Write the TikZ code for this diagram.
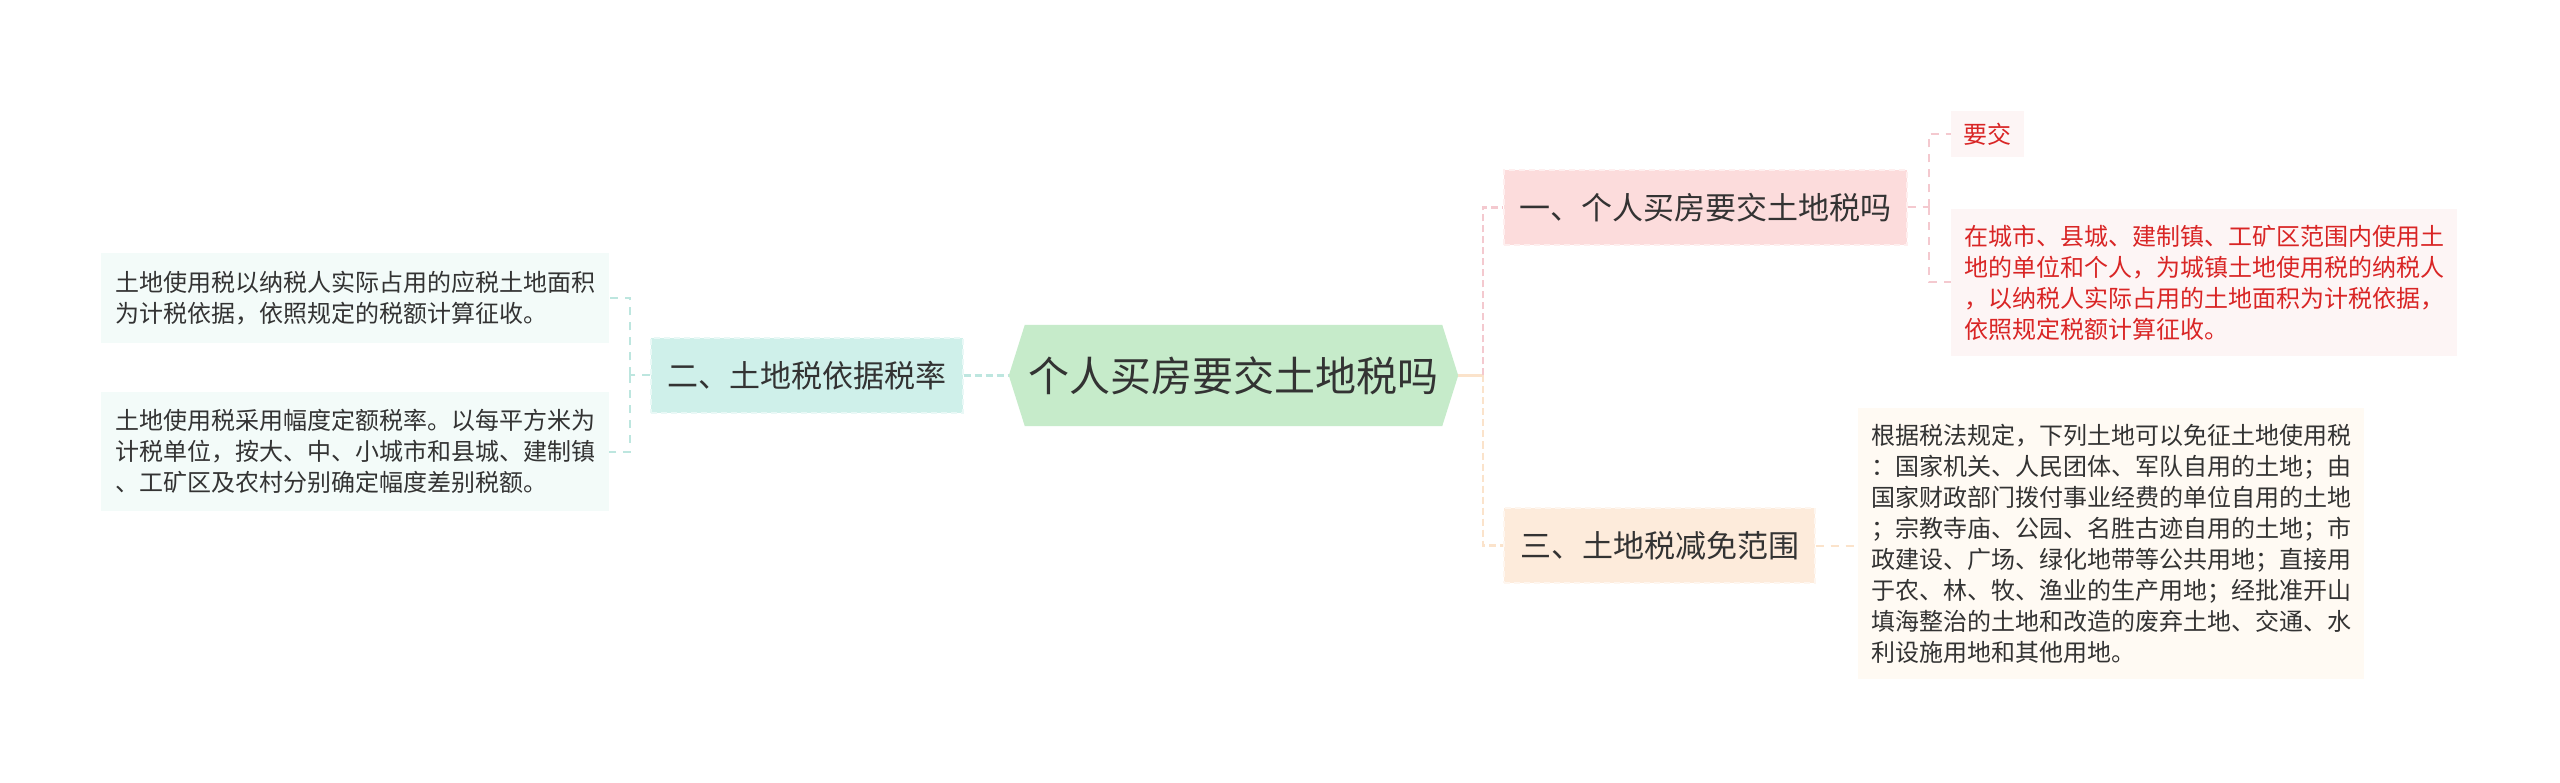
\documentclass[tikz,border=0pt]{standalone}
\usepackage{fontspec}
\newfontfamily\cjk{Noto Sans CJK SC}
\usetikzlibrary{backgrounds}
\definecolor{txt}{HTML}{333333}
\definecolor{redtxt}{HTML}{D92525}
\definecolor{rootfill}{HTML}{C6EBCA}
\definecolor{pinkfill}{HTML}{FCDCDC}
\definecolor{tealfill}{HTML}{CFF0EA}
\definecolor{peachfill}{HTML}{FDEBDB}
\definecolor{pinkleaf}{HTML}{FDF5F5}
\definecolor{tealleaf}{HTML}{F3FBF9}
\definecolor{peachleaf}{HTML}{FFFAF3}
\definecolor{pinkline}{HTML}{F4C9CF}
\definecolor{peachline}{HTML}{FBE3CB}
\definecolor{tealline}{HTML}{BDE6DF}
\begin{document}
\begin{tikzpicture}[x=1pt,y=1pt,
  rootbox/.style={minimum width=449, minimum height=101, inner sep=0, text=txt,
    font=\cjk\fontsize{41}{50}\selectfont},
  branchbox/.style={minimum height=75, inner sep=0, text=txt,
    font=\cjk\fontsize{31}{38}\selectfont, draw=white!55!#1, dashed, dash pattern=on 6pt off 4pt, line width=1.2pt, fill=#1},
  leafbox/.style={inner xsep=13, inner ysep=0, text width=480, align=left,
    font=\cjk\fontsize{24}{31}\selectfont, fill=#1},
  conn/.style={draw=#1, line width=2.6pt, dash pattern=on 7pt off 4pt},
  subconn/.style={draw=#1, line width=2pt, dash pattern=on 8pt off 7pt},
]
\useasboundingbox (0,0) rectangle (2560,-783);

% root
\node[rootbox] (root) at (1233.5,-375.5) {个人买房要交土地税吗};
\begin{scope}[on background layer]
\fill[white] (0,0) rectangle (2560,-783);
\fill[rootfill] (root.west) -- ([xshift=16]root.north west) -- ([xshift=-16]root.north east)
  -- (root.east) -- ([xshift=-16]root.south east) -- ([xshift=16]root.south west) -- cycle;
\end{scope}

% branches
\node[branchbox=pinkfill, minimum width=403] (b1) at (1705.5,-207.5) {一、个人买房要交土地税吗};
\node[branchbox=tealfill, minimum width=312] (b2) at (807,-375.5) {二、土地税依据税率};
\node[branchbox=peachfill, minimum width=311] (b3) at (1659.5,-545.5) {三、土地税减免范围};

% leaves
\node[fill=pinkleaf, minimum width=73, minimum height=46, inner sep=0, text=redtxt,
  font=\cjk\fontsize{24}{31}\selectfont] (l1) at (1987.5,-134) {要交};
\node[leafbox=pinkleaf, text=redtxt, minimum height=147] (l2) at (2204,-282.5)
  {在城市、县城、建制镇、工矿区范围内使用土\\地的单位和个人，为城镇土地使用税的纳税人\\，以纳税人实际占用的土地面积为计税依据，\\依照规定税额计算征收。};
\node[leafbox=peachleaf, text=txt, minimum height=271] (l3) at (2111,-543.5)
  {根据税法规定，下列土地可以免征土地使用税\\：国家机关、人民团体、军队自用的土地；由\\国家财政部门拨付事业经费的单位自用的土地\\；宗教寺庙、公园、名胜古迹自用的土地；市\\政建设、广场、绿化地带等公共用地；直接用\\于农、林、牧、渔业的生产用地；经批准开山\\填海整治的土地和改造的废弃土地、交通、水\\利设施用地和其他用地。};
\node[leafbox=tealleaf, text=txt, minimum height=90, inner xsep=14] (l4) at (355,-298)
  {土地使用税以纳税人实际占用的应税土地面积\\为计税依据，依照规定的税额计算征收。};
\node[leafbox=tealleaf, text=txt, minimum height=119, inner xsep=14] (l5) at (355,-451.5)
  {土地使用税采用幅度定额税率。以每平方米为\\计税单位，按大、中、小城市和县城、建制镇\\、工矿区及农村分别确定幅度差别税额。};

% junctions
\coordinate (jr) at (1483,-375.5);
\coordinate (j1) at (1929,-207.5);
\coordinate (j2) at (630,-375.5);

% connectors
\draw[conn=tealline] (b2.east) -- (root.west);
\draw[draw=peachline, line width=2.6pt] (root.east) -- (jr);
\draw[conn=pinkline] (jr) |- (b1.west);
\draw[conn=peachline] (jr) |- (b3.west);

\draw[subconn=pinkline] (b1.east) -- (j1);
\draw[subconn=pinkline] (j1) |- (l1.west);
\draw[subconn=pinkline] (j1) |- (l2.west);

\draw[subconn=tealline] (b2.west) -- (j2);
\draw[subconn=tealline] (j2) |- (l4.east);
\draw[subconn=tealline] (j2) |- (l5.east);

\draw[subconn=peachline] (b3.east) -- (b3.east -| l3.west);
\end{tikzpicture}
\end{document}
